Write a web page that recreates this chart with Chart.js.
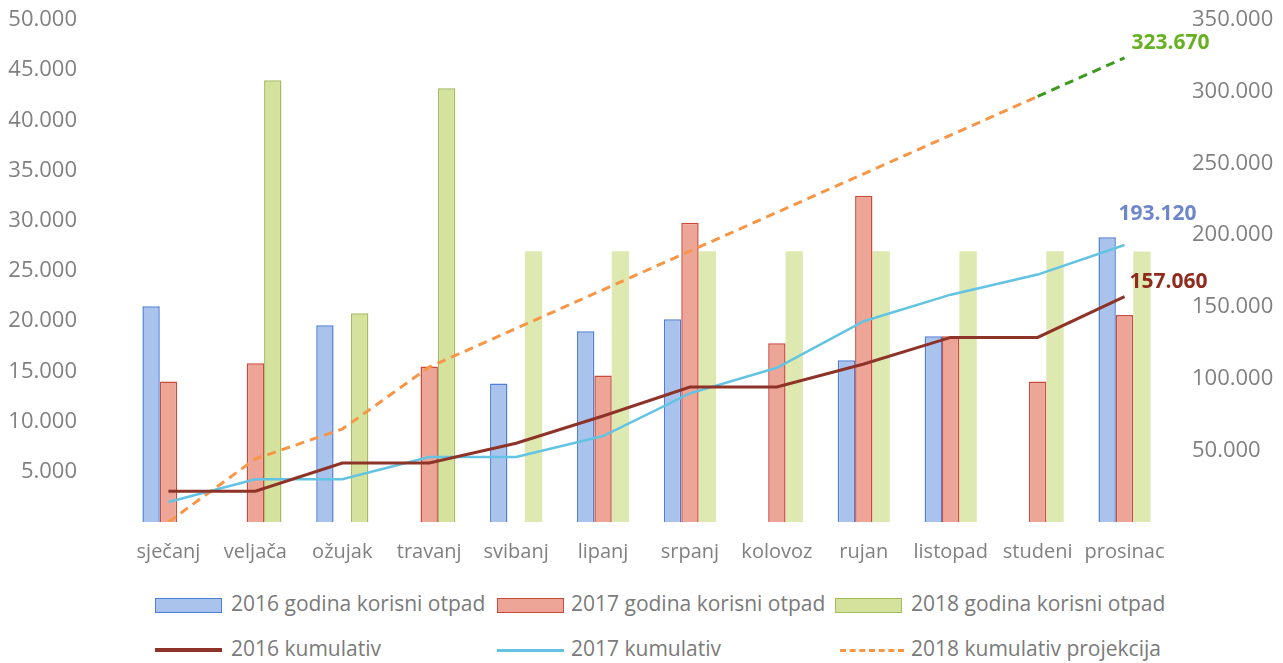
<!DOCTYPE html>
<html>
<head>
<meta charset="utf-8">
<script src="https://cdn.jsdelivr.net/npm/chart.js@4.4.0/dist/chart.umd.min.js"></script>
<style>
    html, body { margin: 0; padding: 0; background: #fff; }
    #wrap { position: relative; width: 1283px; height: 663px; overflow: hidden; }
    #chartBox { position: absolute; left: 0; top: 0; width: 1283px; height: 575px; }
    .leg { position: absolute; font-family: 'Open Sans', sans-serif; font-size: 21px; color: #7a7a7a; white-space: nowrap; line-height: 1; }
    .sw { position: absolute; box-sizing: border-box; }
</style>
</head>
<body>
<div id="wrap">
    <div id="chartBox"><canvas id="otpadChart"></canvas></div>
    <div id="legend"></div>
</div>
<script>
// months
const months = ['sječanj', 'veljača', 'ožujak', 'travanj', 'svibanj', 'lipanj',
    'srpanj', 'kolovoz', 'rujan', 'listopad', 'studeni', 'prosinac'];

// monthly amounts (left axis)
const otpad2016 = [21500, null, 19600, null, 13800, 19000, 20200, null, 16100, 18500, null, 28360];
const otpad2017 = [14000, 15800, null, 15500, null, 14600, 29800, 17800, 32500, 18500, 14000, 20620];
const otpad2018 = [null, 44000, 20800, 43200, 26960, 26960, 26960, 26960, 26960, 26960, 26960, 26950];

// cumulative (right axis)
const kum2016 = [21500, 21500, 41100, 41100, 54900, 73900, 94100, 94100, 110200, 128700, 128700, 157060];
const kum2017 = [14000, 29800, 29800, 45300, 45300, 59900, 89700, 107500, 140000, 158500, 172500, 193120];
const kum2018 = [0, 44000, 64800, 108000, 134960, 161920, 188880, 215840, 242800, 269760, 296720, 323670];

// axis ticks
const leftTicks = [0, 5000, 10000, 15000, 20000, 25000, 30000, 35000, 40000, 45000, 50000];
const rightTicks = [0, 50000, 100000, 150000, 200000, 250000, 300000, 350000];

function fmt(v) {
    return String(v).replace(/\B(?=(\d{3})+(?!\d))/g, '.');
}

const blueFill = '#aac3ec', blueLine = '#4f7fd4';
const redFill = '#eda597', redLine = '#cc4a3a';
const greenFill = '#d5e29d', greenLine = '#a3bd5e', greenSoft = 'rgba(214,227,158,0.8)';
const axisGrey = '#808080';

// 2018 bars: real months have a border, projected ones are paler
const green2018Bg = otpad2018.map(function(v, i) { return i < 4 ? greenFill : greenSoft; });
const green2018Bw = otpad2018.map(function(v, i) { return i < 4 ? 1.5 : 0; });

// labels at the end of the cumulative lines
const endLabelPlugin = {
    id: 'endLabels',
    afterDatasetsDraw(chart, args, opts) {
        const ctx = chart.ctx;
        opts.items.forEach(function(it) {
            const meta = chart.getDatasetMeta(it.dataset);
            const pt = meta.data[meta.data.length - 1];
            const values = chart.data.datasets[it.dataset].data;
            ctx.save();
            ctx.font = 'bold 21px "Open Sans", sans-serif';
            ctx.fillStyle = it.color;
            ctx.textAlign = 'left';
            ctx.textBaseline = 'middle';
            ctx.fillText(fmt(values[values.length - 1]), pt.x + it.dx, pt.y + it.dy);
            ctx.restore();
        });
    }
};

// y axes: fixed width, no extra vertical padding
function fixAxis(width) {
    return function(s) {
        s.width = width;
        s.paddingTop = 0;
        s.paddingBottom = 0;
    };
}

const chart = new Chart(document.getElementById('otpadChart'), {
    data: {
        labels: months,
        datasets: [{
            type: 'line',
            label: '2016 kumulativ',
            data: kum2016,
            yAxisID: 'y1',
            borderColor: '#8e3328',
            borderWidth: 3,
            pointRadius: 0,
            tension: 0,
            order: 0
        }, {
            type: 'line',
            label: '2017 kumulativ',
            data: kum2017,
            yAxisID: 'y1',
            borderColor: '#63c3e3',
            borderWidth: 2.5,
            pointRadius: 0,
            tension: 0,
            order: 0
        }, {
            type: 'line',
            label: '2018 kumulativ projekcija',
            data: kum2018,
            yAxisID: 'y1',
            borderColor: '#f79646',
            borderWidth: 3,
            borderDash: [9, 6],
            pointRadius: 0,
            tension: 0,
            order: 0,
            segment: {
                borderColor: function(c) { return c.p1DataIndex === 11 ? '#3c9a1c' : undefined; }
            }
        }, {
            type: 'bar',
            label: '2016 godina korisni otpad',
            data: otpad2016,
            yAxisID: 'y',
            backgroundColor: blueFill,
            borderColor: blueLine,
            borderWidth: 1.5,
            order: 1
        }, {
            type: 'bar',
            label: '2017 godina korisni otpad',
            data: otpad2017,
            yAxisID: 'y',
            backgroundColor: redFill,
            borderColor: redLine,
            borderWidth: 1.5,
            order: 1
        }, {
            type: 'bar',
            label: '2018 godina korisni otpad',
            data: otpad2018,
            yAxisID: 'y',
            backgroundColor: green2018Bg,
            borderColor: greenLine,
            borderWidth: green2018Bw,
            order: 1
        }]
    },
    options: {
        responsive: true,
        maintainAspectRatio: false,
        animation: false,
        layout: { padding: { top: 20, left: 0, right: 0, bottom: 0 } },
        datasets: {
            bar: { categoryPercentage: 0.6, barPercentage: 1.0 }
        },
        plugins: {
            legend: { display: false },
            tooltip: { enabled: false },
            endLabels: {
                items: [
                    { dataset: 0, color: '#8e2b1d', dx: 5, dy: -15 },
                    { dataset: 1, color: '#6d87c9', dx: -6, dy: -31 },
                    { dataset: 2, color: '#66b022', dx: 7, dy: -15 }
                ]
            }
        },
        scales: {
            x: {
                grid: { display: false, drawTicks: false },
                border: { display: false },
                ticks: { color: axisGrey, font: { family: 'Open Sans', size: 20 }, padding: 18 },
                afterFit: function(s) { s.height = 53; }
            },
            y: {
                position: 'left',
                min: 0,
                max: 50000,
                grid: { display: false, drawTicks: false },
                border: { display: false },
                afterBuildTicks: function(s) { s.ticks = leftTicks.map(function(v) { return { value: v }; }); },
                ticks: {
                    color: axisGrey,
                    font: { family: 'Open Sans', size: 22 },
                    padding: 48,
                    callback: function(v) { return v === 0 ? '' : fmt(v); }
                },
                afterFit: fixAxis(125)
            },
            y1: {
                position: 'right',
                min: 0,
                max: 350000,
                grid: { display: false, drawTicks: false },
                border: { display: false },
                afterBuildTicks: function(s) { s.ticks = rightTicks.map(function(v) { return { value: v }; }); },
                ticks: {
                    color: axisGrey,
                    font: { family: 'Open Sans', size: 22 },
                    padding: 24,
                    callback: function(v) { return v === 0 ? '' : fmt(v); }
                },
                afterFit: fixAxis(115)
            }
        }
    },
    plugins: [endLabelPlugin]
});

// legend, laid out in three columns like the original
const legendItems = [
    { text: '2016 godina korisni otpad', kind: 'box', fill: blueFill, line: blueLine },
    { text: '2017 godina korisni otpad', kind: 'box', fill: redFill, line: redLine },
    { text: '2018 godina korisni otpad', kind: 'box', fill: greenFill, line: greenLine },
    { text: '2016 kumulativ', kind: 'line', line: '#8e3328', w: 4 },
    { text: '2017 kumulativ', kind: 'line', line: '#63c3e3', w: 3 },
    { text: '2018 kumulativ projekcija', kind: 'dash', line: '#f79646', w: 3 }
];
const colBox = [155, 497, 835];
const colText = [231, 571, 911];
const rowY = [605, 650];
const legend = document.getElementById('legend');
legendItems.forEach(function(it, i) {
    const col = i % 3, row = Math.floor(i / 3);
    const sw = document.createElement('div');
    sw.className = 'sw';
    if (it.kind === 'box') {
        sw.style.cssText = 'left:' + colBox[col] + 'px;top:' + (rowY[row] - 7) + 'px;width:67px;height:15px;' +
            'background:' + it.fill + ';border:1.5px solid ' + it.line + ';';
    } else if (it.kind === 'line') {
        sw.style.cssText = 'left:' + colBox[col] + 'px;top:' + (rowY[row] - it.w / 2) + 'px;width:67px;height:' + it.w + 'px;background:' + it.line + ';';
    } else {
        sw.style.cssText = 'left:' + (colBox[col] + 5) + 'px;top:' + (rowY[row] - 1) + 'px;width:64px;height:0;border-top:' + it.w + 'px dashed ' + it.line + ';';
    }
    legend.appendChild(sw);
    const tx = document.createElement('div');
    tx.className = 'leg';
    tx.textContent = it.text;
    tx.style.left = colText[col] + 'px';
    tx.style.top = (rowY[row] - 12) + 'px';
    legend.appendChild(tx);
});
</script>
</body>
</html>
